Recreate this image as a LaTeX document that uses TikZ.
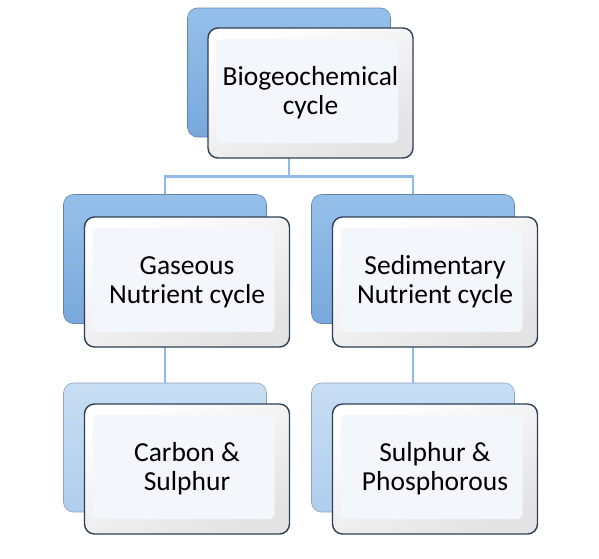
\documentclass[tikz,border=0pt]{standalone}
\usepackage{fontspec}
\setmainfont{Carlito}
\usepackage{xcolor}
\usepackage{tikz}
\usetikzlibrary{calc, positioning}

\definecolor{backblue}{RGB}{120,168,220}
\definecolor{backtop}{RGB}{150,192,234}
\definecolor{paleblue}{RGB}{175,206,237}
\definecolor{paletop}{RGB}{200,222,244}
\definecolor{linkblue}{RGB}{145,186,230}
\definecolor{frontedge}{RGB}{44,64,86}
\definecolor{face}{RGB}{243,247,252}

\tikzset{
  backbox/.style={rounded corners=10pt, minimum width=203pt, minimum height=129pt,
    draw=backblue!80!black, line width=0.6pt, top color=backtop, bottom color=backblue},
  palebox/.style={backbox, draw=paleblue!80!black, top color=paletop, bottom color=paleblue},
  frontbox/.style={rounded corners=10pt, minimum width=205pt, minimum height=130pt,
    draw=frontedge, line width=1.4pt, top color=white, bottom color=gray!22,
    shading angle=25, align=center, font=\fontsize{27.5}{29}\selectfont,
    path picture={\fill[face, rounded corners=6pt]
      ([shift={(8pt,-11pt)}]path picture bounding box.north west) rectangle
      ([shift={(-15pt,15pt)}]path picture bounding box.south east);}},
  link/.style={draw=linkblue, line width=2.6pt}
}

\begin{document}
\begin{tikzpicture}[x=1pt, y=-1pt]
    \useasboundingbox (0,0) rectangle (599,558);
    \fill[white] (0,0) rectangle (599,558);

    % back boxes
    \node[backbox] (topb) at (289,72.5) {};
    \node[backbox] (gasb) at (165,259) {};
    \node[backbox] (sedb) at (413,259) {};
    \node[palebox] (carbb) at (165,447.5) {};
    \node[palebox] (sulb) at (413,447.5) {};

    % connectors
    \draw[link] (topb.south) -- ++(0,39) coordinate (fork) -| (gasb.north);
    \draw[link] (fork) -| (sedb.north);
    \draw[link] (gasb.south) -- (carbb.north);
    \draw[link] (sedb.south) -- (sulb.north);

    % front boxes
    \node[frontbox] (topf) at (310.5,93) {Biogeochemical\\cycle};
    \node[frontbox] (gasf) at (187,282) {Gaseous\\Nutrient cycle};
    \node[frontbox] (sedf) at (435,282) {Sedimentary\\Nutrient cycle};
    \node[frontbox] (carbf) at (187,469) {Carbon \&\\Sulphur};
    \node[frontbox] (sulf) at (435,469) {Sulphur \&\\Phosphorous};
\end{tikzpicture}
\end{document}
